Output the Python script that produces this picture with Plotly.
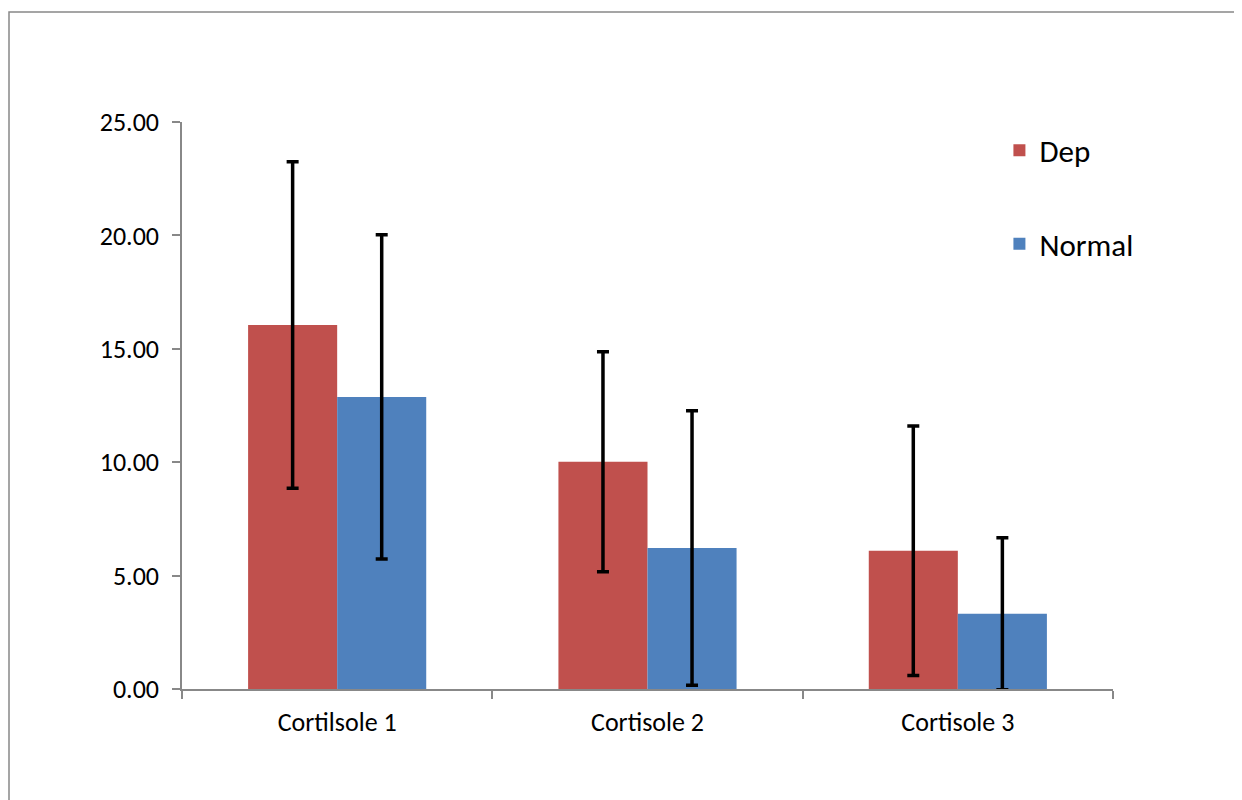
import plotly.graph_objects as go

categories = ["Cortilsole 1", "Cortisole 2", "Cortisole 3"]
dep_values = [16.05, 10.02, 6.10]
dep_errors = [7.2, 4.85, 5.5]
normal_values = [12.88, 6.22, 3.32]
normal_errors = [7.15, 6.05, 3.35]
y_ticks = [0, 5, 10, 15, 20, 25]
y_tick_labels = ["0.00", "5.00", "10.00", "15.00", "20.00", "25.00"]

font_family = "Carlito, Calibri, Lato, 'Open Sans', sans-serif"

W, H = 1234, 792
L, T = 174, 114
PW, PH = 931, 567

fig = go.Figure()
fig.add_trace(go.Bar(
    name="Dep", x=categories, y=dep_values,
    marker=dict(color="#C0504D", line=dict(width=0)),
    error_y=dict(type="data", array=dep_errors, color="black", thickness=3.5, width=6),
    legendgroup="dep",
))
fig.add_trace(go.Bar(
    name="Normal", x=categories, y=normal_values,
    marker=dict(color="#4F81BD", line=dict(width=0)),
    error_y=dict(type="data", array=normal_errors, color="black", thickness=3.5, width=6),
    legendgroup="normal",
))

fig.update_layout(
    width=W, height=H,
    margin=dict(l=L, r=W - L - PW, t=T, b=H - T - PH, autoexpand=False),
    paper_bgcolor="white", plot_bgcolor="white",
    barmode="group", bargap=0.426, bargroupgap=0,
    font=dict(family=font_family, size=26, color="black"),
    showlegend=True,
    legend=dict(
        x=0.878, y=0.997, xanchor="left", yanchor="top",
        font=dict(size=31, family=font_family),
        tracegroupgap=50, traceorder="grouped",
        bgcolor="rgba(0,0,0,0)",
    ),
    xaxis=dict(
        showline=True, linecolor="#888888", linewidth=1.5,
        ticks="outside", ticklen=8, tickcolor="#888888", tickwidth=1.5,
        tickson="boundaries", showgrid=False, zeroline=False,
        tickfont=dict(size=26), ticklabelstandoff=9,
    ),
    yaxis=dict(
        range=[0, 25], tickvals=y_ticks, ticktext=y_tick_labels,
        showline=True, linecolor="#888888", linewidth=1.5,
        ticks="outside", ticklen=8, tickcolor="#888888", tickwidth=1.5,
        showgrid=False, zeroline=False, tickfont=dict(size=26),
        ticklabelstandoff=8,
    ),
    shapes=[dict(
        type="rect", xref="paper", yref="paper",
        x0=(1 - L) / PW, x1=1.3, y0=-0.4, y1=(PH + T - 4) / PH,
        line=dict(color="#888888", width=1.5), fillcolor="rgba(0,0,0,0)",
        layer="below",
    )],
)

fig.write_html("out.html")
